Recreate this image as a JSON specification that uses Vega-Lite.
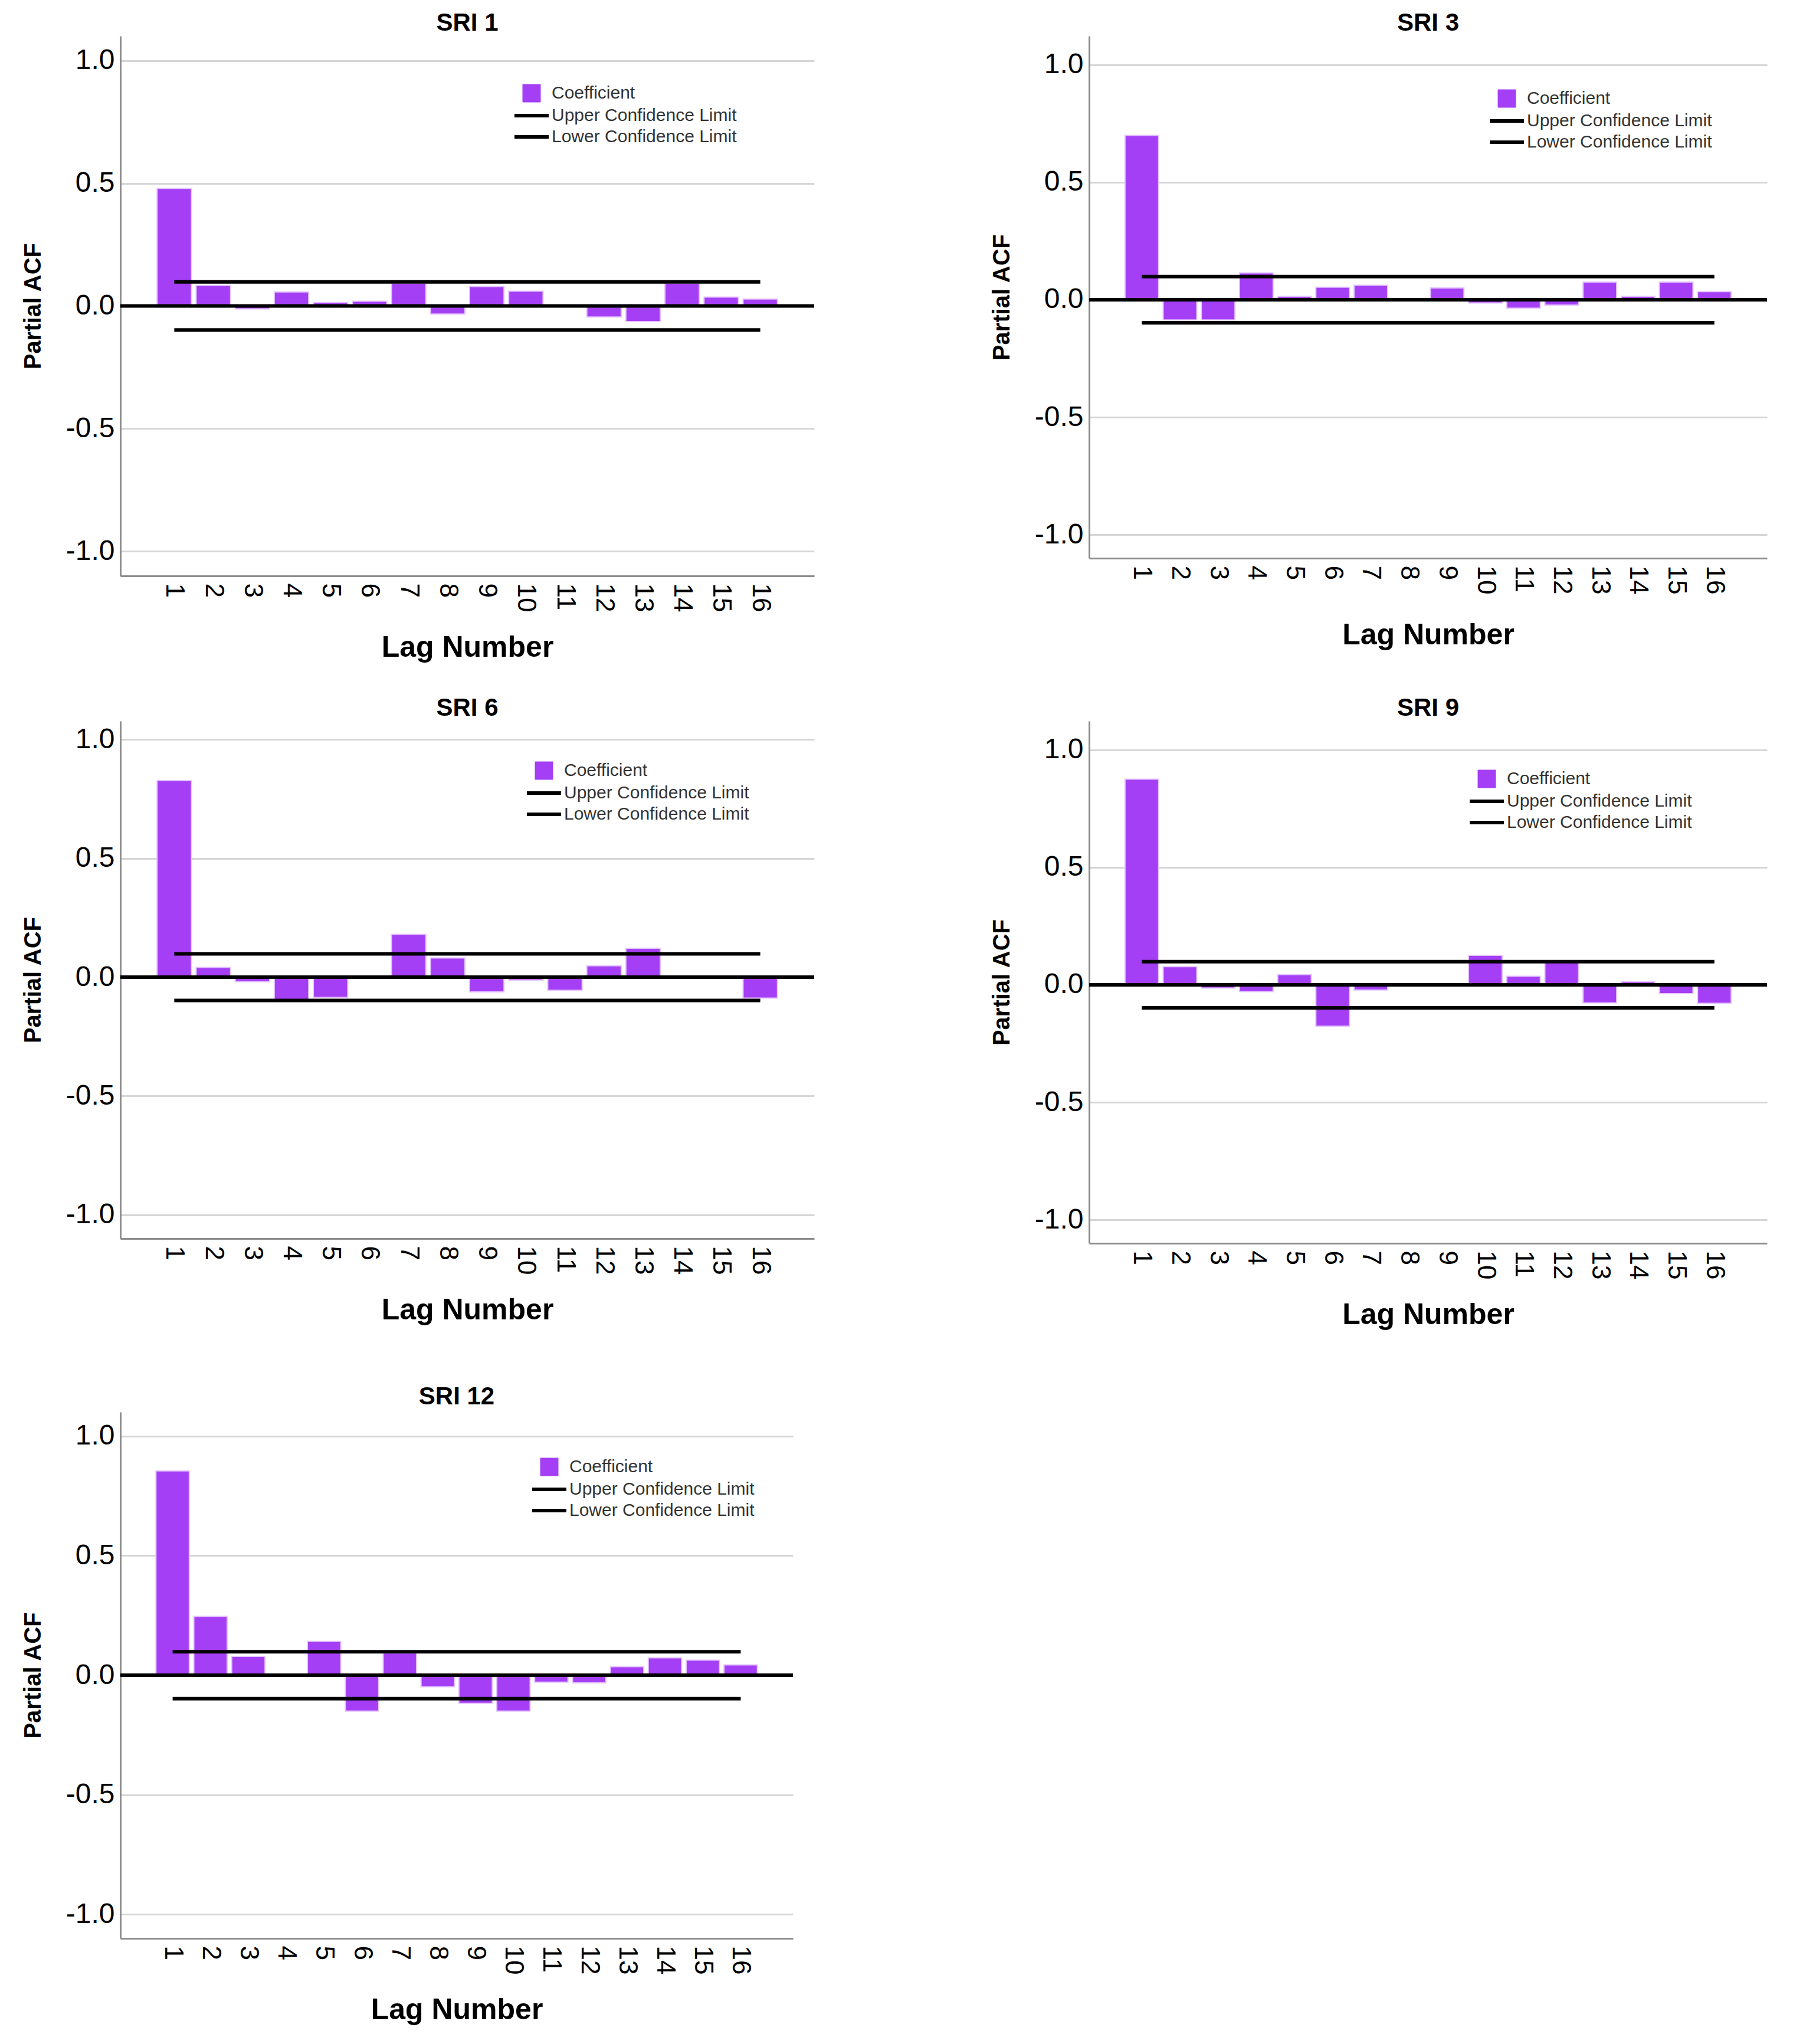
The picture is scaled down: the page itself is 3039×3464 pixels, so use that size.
{
  "$schema": "https://vega.github.io/schema/vega-lite/v6.json",
  "background": "white",
  "padding": {"left": 36, "top": 18, "right": 10, "bottom": 10},
  "datasets": {
    "pacf": [
      {"series": "SRI 1", "lag": 1, "pacf": 0.479}, {"series": "SRI 1", "lag": 2, "pacf": 0.083},
      {"series": "SRI 1", "lag": 3, "pacf": -0.012}, {"series": "SRI 1", "lag": 4, "pacf": 0.057},
      {"series": "SRI 1", "lag": 5, "pacf": 0.014}, {"series": "SRI 1", "lag": 6, "pacf": 0.019},
      {"series": "SRI 1", "lag": 7, "pacf": 0.093}, {"series": "SRI 1", "lag": 8, "pacf": -0.033},
      {"series": "SRI 1", "lag": 9, "pacf": 0.079}, {"series": "SRI 1", "lag": 10, "pacf": 0.06},
      {"series": "SRI 1", "lag": 11, "pacf": 0.002}, {"series": "SRI 1", "lag": 12, "pacf": -0.045},
      {"series": "SRI 1", "lag": 13, "pacf": -0.064}, {"series": "SRI 1", "lag": 14, "pacf": 0.093},
      {"series": "SRI 1", "lag": 15, "pacf": 0.036}, {"series": "SRI 1", "lag": 16, "pacf": 0.028},
      {"series": "SRI 3", "lag": 1, "pacf": 0.699}, {"series": "SRI 3", "lag": 2, "pacf": -0.086},
      {"series": "SRI 3", "lag": 3, "pacf": -0.086}, {"series": "SRI 3", "lag": 4, "pacf": 0.114},
      {"series": "SRI 3", "lag": 5, "pacf": 0.014}, {"series": "SRI 3", "lag": 6, "pacf": 0.053},
      {"series": "SRI 3", "lag": 7, "pacf": 0.061}, {"series": "SRI 3", "lag": 8, "pacf": 0.005},
      {"series": "SRI 3", "lag": 9, "pacf": 0.05}, {"series": "SRI 3", "lag": 10, "pacf": -0.014},
      {"series": "SRI 3", "lag": 11, "pacf": -0.036}, {"series": "SRI 3", "lag": 12, "pacf": -0.023},
      {"series": "SRI 3", "lag": 13, "pacf": 0.075}, {"series": "SRI 3", "lag": 14, "pacf": 0.014},
      {"series": "SRI 3", "lag": 15, "pacf": 0.075}, {"series": "SRI 3", "lag": 16, "pacf": 0.034},
      {"series": "SRI 6", "lag": 1, "pacf": 0.827}, {"series": "SRI 6", "lag": 2, "pacf": 0.041},
      {"series": "SRI 6", "lag": 3, "pacf": -0.019}, {"series": "SRI 6", "lag": 4, "pacf": -0.102},
      {"series": "SRI 6", "lag": 5, "pacf": -0.085}, {"series": "SRI 6", "lag": 6, "pacf": 0.002},
      {"series": "SRI 6", "lag": 7, "pacf": 0.18}, {"series": "SRI 6", "lag": 8, "pacf": 0.081},
      {"series": "SRI 6", "lag": 9, "pacf": -0.062}, {"series": "SRI 6", "lag": 10, "pacf": -0.012},
      {"series": "SRI 6", "lag": 11, "pacf": -0.055}, {"series": "SRI 6", "lag": 12, "pacf": 0.048},
      {"series": "SRI 6", "lag": 13, "pacf": 0.122}, {"series": "SRI 6", "lag": 14, "pacf": -0.003},
      {"series": "SRI 6", "lag": 15, "pacf": 0.002}, {"series": "SRI 6", "lag": 16, "pacf": -0.088},
      {"series": "SRI 9", "lag": 1, "pacf": 0.875}, {"series": "SRI 9", "lag": 2, "pacf": 0.077},
      {"series": "SRI 9", "lag": 3, "pacf": -0.014}, {"series": "SRI 9", "lag": 4, "pacf": -0.029},
      {"series": "SRI 9", "lag": 5, "pacf": 0.043}, {"series": "SRI 9", "lag": 6, "pacf": -0.176},
      {"series": "SRI 9", "lag": 7, "pacf": -0.022}, {"series": "SRI 9", "lag": 8, "pacf": 0.001},
      {"series": "SRI 9", "lag": 9, "pacf": 0.001}, {"series": "SRI 9", "lag": 10, "pacf": 0.125},
      {"series": "SRI 9", "lag": 11, "pacf": 0.036}, {"series": "SRI 9", "lag": 12, "pacf": 0.1},
      {"series": "SRI 9", "lag": 13, "pacf": -0.077}, {"series": "SRI 9", "lag": 14, "pacf": 0.013},
      {"series": "SRI 9", "lag": 15, "pacf": -0.038}, {"series": "SRI 9", "lag": 16, "pacf": -0.079},
      {"series": "SRI 12", "lag": 1, "pacf": 0.854}, {"series": "SRI 12", "lag": 2, "pacf": 0.246},
      {"series": "SRI 12", "lag": 3, "pacf": 0.079}, {"series": "SRI 12", "lag": 4, "pacf": 0.001},
      {"series": "SRI 12", "lag": 5, "pacf": 0.141}, {"series": "SRI 12", "lag": 6, "pacf": -0.15},
      {"series": "SRI 12", "lag": 7, "pacf": 0.093}, {"series": "SRI 12", "lag": 8, "pacf": -0.048},
      {"series": "SRI 12", "lag": 9, "pacf": -0.118}, {"series": "SRI 12", "lag": 10, "pacf": -0.15},
      {"series": "SRI 12", "lag": 11, "pacf": -0.029}, {"series": "SRI 12", "lag": 12, "pacf": -0.032},
      {"series": "SRI 12", "lag": 13, "pacf": 0.036}, {"series": "SRI 12", "lag": 14, "pacf": 0.073},
      {"series": "SRI 12", "lag": 15, "pacf": 0.063}, {"series": "SRI 12", "lag": 16, "pacf": 0.043}
    ],
    "limits": [
      {"series": "SRI 1", "limit": "Upper Confidence Limit", "value": 0.098},
      {"series": "SRI 1", "limit": "Lower Confidence Limit", "value": -0.098},
      {"series": "SRI 3", "limit": "Upper Confidence Limit", "value": 0.098},
      {"series": "SRI 3", "limit": "Lower Confidence Limit", "value": -0.098},
      {"series": "SRI 6", "limit": "Upper Confidence Limit", "value": 0.098},
      {"series": "SRI 6", "limit": "Lower Confidence Limit", "value": -0.098},
      {"series": "SRI 9", "limit": "Upper Confidence Limit", "value": 0.098},
      {"series": "SRI 9", "limit": "Lower Confidence Limit", "value": -0.098},
      {"series": "SRI 12", "limit": "Upper Confidence Limit", "value": 0.098},
      {"series": "SRI 12", "limit": "Lower Confidence Limit", "value": -0.098}
    ],
    "zero": [{"value": 0}]
  },
  "spacing": 92,
  "resolve": {"scale": {"color": "independent"}, "legend": {"color": "independent"}},
  "vconcat": [
    {
      "spacing": 56,
      "resolve": {"scale": {"color": "independent"}, "legend": {"color": "independent"}},
      "vconcat": [
        {
          "spacing": 295,
          "resolve": {"scale": {"color": "independent"}, "legend": {"color": "independent"}},
          "hconcat": [
            {
              "title": {"text": "SRI 1", "offset": 0},
              "width": 1176, "height": 915,
              "layer": [
                {
                  "data": {"name": "pacf"},
                  "transform": [{"filter": "datum.series === 'SRI 1'"}],
                  "mark": {"type": "bar", "stroke": "#e4c4ff", "strokeWidth": 2},
                  "encoding": {
                    "x": {"field": "lag", "type": "ordinal", "title": "Lag Number"},
                    "y": {"field": "pacf", "type": "quantitative", "title": "Partial ACF", "scale": {"domain": [-1.1, 1.1], "nice": false}, "axis": {"values": [-1, -0.5, 0, 0.5, 1], "labelExpr": "replace(format(datum.value, '.1f'), '\u2212', '-')"}},
                    "color": {"datum": "Coefficient", "type": "nominal",
                      "scale": {"domain": ["Coefficient", "Upper Confidence Limit", "Lower Confidence Limit"], "range": ["#a53ff5", "#000000", "#000000"]},
                      "legend": {"title": null, "orient": "none", "legendX": 682, "legendY": 82, "padding": 0, "symbolSize": 3364, "symbolStrokeWidth": 6, "labelFontSize": 30, "labelLimit": 0, "labelColor": "#333333", "labelOffset": 19, "rowPadding": 6,
                        "encode": {"symbols": {"update": {
                          "shape": {"signal": "datum.value === 'Coefficient' ? 'square' : 'stroke'"},
                          "size": {"signal": "datum.value === 'Coefficient' ? 900 : 3364"},
                          "fill": {"signal": "datum.value === 'Coefficient' ? '#a53ff5' : 'transparent'"},
                          "stroke": {"signal": "datum.value === 'Coefficient' ? '#e4c4ff' : '#000000'"},
                          "strokeWidth": {"signal": "datum.value === 'Coefficient' ? 1 : 6"},
                          "opacity": {"value": 1}}}}}}
                  }
                },
                {
                  "data": {"name": "limits"},
                  "transform": [{"filter": "datum.series === 'SRI 1'"}],
                  "mark": {"type": "rule", "strokeWidth": 6},
                  "encoding": {
                    "x": {"datum": 1, "type": "ordinal"},
                    "x2": {"datum": 16},
                    "y": {"field": "value", "type": "quantitative"},
                    "color": {"field": "limit", "type": "nominal",
                      "legend": {"title": null, "orient": "none", "legendX": 682, "legendY": 82, "padding": 0, "symbolSize": 3364, "symbolStrokeWidth": 6, "labelFontSize": 30, "labelLimit": 0, "labelColor": "#333333", "labelOffset": 19, "rowPadding": 6,
                        "encode": {"symbols": {"update": {
                          "shape": {"signal": "datum.value === 'Coefficient' ? 'square' : 'stroke'"},
                          "size": {"signal": "datum.value === 'Coefficient' ? 900 : 3364"},
                          "fill": {"signal": "datum.value === 'Coefficient' ? '#a53ff5' : 'transparent'"},
                          "stroke": {"signal": "datum.value === 'Coefficient' ? '#e4c4ff' : '#000000'"},
                          "strokeWidth": {"signal": "datum.value === 'Coefficient' ? 1 : 6"},
                          "opacity": {"value": 1}}}}}}
                  }
                },
                {
                  "data": {"name": "zero"},
                  "mark": {"type": "rule", "strokeWidth": 6, "color": "#000000"},
                  "encoding": {"y": {"field": "value", "type": "quantitative"}}
                }
              ]
            },
            {
              "title": {"text": "SRI 3", "offset": 0},
              "width": 1149, "height": 885,
              "layer": [
                {
                  "data": {"name": "pacf"},
                  "transform": [{"filter": "datum.series === 'SRI 3'"}],
                  "mark": {"type": "bar", "stroke": "#e4c4ff", "strokeWidth": 2},
                  "encoding": {
                    "x": {"field": "lag", "type": "ordinal", "title": "Lag Number", "axis": {"titlePadding": 45}},
                    "y": {"field": "pacf", "type": "quantitative", "title": "Partial ACF", "scale": {"domain": [-1.1, 1.122], "nice": false}, "axis": {"values": [-1, -0.5, 0, 0.5, 1], "labelExpr": "replace(format(datum.value, '.1f'), '\u2212', '-')"}},
                    "color": {"datum": "Coefficient", "type": "nominal",
                      "scale": {"domain": ["Coefficient", "Upper Confidence Limit", "Lower Confidence Limit"], "range": ["#a53ff5", "#000000", "#000000"]},
                      "legend": {"title": null, "orient": "none", "legendX": 693, "legendY": 91, "padding": 0, "symbolSize": 3364, "symbolStrokeWidth": 6, "labelFontSize": 30, "labelLimit": 0, "labelColor": "#333333", "labelOffset": 19, "rowPadding": 6,
                        "encode": {"symbols": {"update": {
                          "shape": {"signal": "datum.value === 'Coefficient' ? 'square' : 'stroke'"},
                          "size": {"signal": "datum.value === 'Coefficient' ? 900 : 3364"},
                          "fill": {"signal": "datum.value === 'Coefficient' ? '#a53ff5' : 'transparent'"},
                          "stroke": {"signal": "datum.value === 'Coefficient' ? '#e4c4ff' : '#000000'"},
                          "strokeWidth": {"signal": "datum.value === 'Coefficient' ? 1 : 6"},
                          "opacity": {"value": 1}}}}}}
                  }
                },
                {
                  "data": {"name": "limits"},
                  "transform": [{"filter": "datum.series === 'SRI 3'"}],
                  "mark": {"type": "rule", "strokeWidth": 6},
                  "encoding": {
                    "x": {"datum": 1, "type": "ordinal"},
                    "x2": {"datum": 16},
                    "y": {"field": "value", "type": "quantitative"},
                    "color": {"field": "limit", "type": "nominal",
                      "legend": {"title": null, "orient": "none", "legendX": 693, "legendY": 91, "padding": 0, "symbolSize": 3364, "symbolStrokeWidth": 6, "labelFontSize": 30, "labelLimit": 0, "labelColor": "#333333", "labelOffset": 19, "rowPadding": 6,
                        "encode": {"symbols": {"update": {
                          "shape": {"signal": "datum.value === 'Coefficient' ? 'square' : 'stroke'"},
                          "size": {"signal": "datum.value === 'Coefficient' ? 900 : 3364"},
                          "fill": {"signal": "datum.value === 'Coefficient' ? '#a53ff5' : 'transparent'"},
                          "stroke": {"signal": "datum.value === 'Coefficient' ? '#e4c4ff' : '#000000'"},
                          "strokeWidth": {"signal": "datum.value === 'Coefficient' ? 1 : 6"},
                          "opacity": {"value": 1}}}}}}
                  }
                },
                {
                  "data": {"name": "zero"},
                  "mark": {"type": "rule", "strokeWidth": 6, "color": "#000000"},
                  "encoding": {"y": {"field": "value", "type": "quantitative"}}
                }
              ]
            }
          ]
        },
        {
          "spacing": 295,
          "resolve": {"scale": {"color": "independent"}, "legend": {"color": "independent"}},
          "hconcat": [
            {
              "title": {"text": "SRI 6", "offset": 0},
              "width": 1176, "height": 877,
              "layer": [
                {
                  "data": {"name": "pacf"},
                  "transform": [{"filter": "datum.series === 'SRI 6'"}],
                  "mark": {"type": "bar", "stroke": "#e4c4ff", "strokeWidth": 2},
                  "encoding": {
                    "x": {"field": "lag", "type": "ordinal", "title": "Lag Number"},
                    "y": {"field": "pacf", "type": "quantitative", "title": "Partial ACF", "scale": {"domain": [-1.1, 1.078], "nice": false}, "axis": {"values": [-1, -0.5, 0, 0.5, 1], "labelExpr": "replace(format(datum.value, '.1f'), '\u2212', '-')"}},
                    "color": {"datum": "Coefficient", "type": "nominal",
                      "scale": {"domain": ["Coefficient", "Upper Confidence Limit", "Lower Confidence Limit"], "range": ["#a53ff5", "#000000", "#000000"]},
                      "legend": {"title": null, "orient": "none", "legendX": 703, "legendY": 69, "padding": 0, "symbolSize": 3364, "symbolStrokeWidth": 6, "labelFontSize": 30, "labelLimit": 0, "labelColor": "#333333", "labelOffset": 19, "rowPadding": 6,
                        "encode": {"symbols": {"update": {
                          "shape": {"signal": "datum.value === 'Coefficient' ? 'square' : 'stroke'"},
                          "size": {"signal": "datum.value === 'Coefficient' ? 900 : 3364"},
                          "fill": {"signal": "datum.value === 'Coefficient' ? '#a53ff5' : 'transparent'"},
                          "stroke": {"signal": "datum.value === 'Coefficient' ? '#e4c4ff' : '#000000'"},
                          "strokeWidth": {"signal": "datum.value === 'Coefficient' ? 1 : 6"},
                          "opacity": {"value": 1}}}}}}
                  }
                },
                {
                  "data": {"name": "limits"},
                  "transform": [{"filter": "datum.series === 'SRI 6'"}],
                  "mark": {"type": "rule", "strokeWidth": 6},
                  "encoding": {
                    "x": {"datum": 1, "type": "ordinal"},
                    "x2": {"datum": 16},
                    "y": {"field": "value", "type": "quantitative"},
                    "color": {"field": "limit", "type": "nominal",
                      "legend": {"title": null, "orient": "none", "legendX": 703, "legendY": 69, "padding": 0, "symbolSize": 3364, "symbolStrokeWidth": 6, "labelFontSize": 30, "labelLimit": 0, "labelColor": "#333333", "labelOffset": 19, "rowPadding": 6,
                        "encode": {"symbols": {"update": {
                          "shape": {"signal": "datum.value === 'Coefficient' ? 'square' : 'stroke'"},
                          "size": {"signal": "datum.value === 'Coefficient' ? 900 : 3364"},
                          "fill": {"signal": "datum.value === 'Coefficient' ? '#a53ff5' : 'transparent'"},
                          "stroke": {"signal": "datum.value === 'Coefficient' ? '#e4c4ff' : '#000000'"},
                          "strokeWidth": {"signal": "datum.value === 'Coefficient' ? 1 : 6"},
                          "opacity": {"value": 1}}}}}}
                  }
                },
                {
                  "data": {"name": "zero"},
                  "mark": {"type": "rule", "strokeWidth": 6, "color": "#000000"},
                  "encoding": {"y": {"field": "value", "type": "quantitative"}}
                }
              ]
            },
            {
              "title": {"text": "SRI 9", "offset": 0},
              "width": 1149, "height": 885,
              "layer": [
                {
                  "data": {"name": "pacf"},
                  "transform": [{"filter": "datum.series === 'SRI 9'"}],
                  "mark": {"type": "bar", "stroke": "#e4c4ff", "strokeWidth": 2},
                  "encoding": {
                    "x": {"field": "lag", "type": "ordinal", "title": "Lag Number"},
                    "y": {"field": "pacf", "type": "quantitative", "title": "Partial ACF", "scale": {"domain": [-1.1, 1.122], "nice": false}, "axis": {"values": [-1, -0.5, 0, 0.5, 1], "labelExpr": "replace(format(datum.value, '.1f'), '\u2212', '-')"}},
                    "color": {"datum": "Coefficient", "type": "nominal",
                      "scale": {"domain": ["Coefficient", "Upper Confidence Limit", "Lower Confidence Limit"], "range": ["#a53ff5", "#000000", "#000000"]},
                      "legend": {"title": null, "orient": "none", "legendX": 659, "legendY": 83, "padding": 0, "symbolSize": 3364, "symbolStrokeWidth": 6, "labelFontSize": 30, "labelLimit": 0, "labelColor": "#333333", "labelOffset": 19, "rowPadding": 6,
                        "encode": {"symbols": {"update": {
                          "shape": {"signal": "datum.value === 'Coefficient' ? 'square' : 'stroke'"},
                          "size": {"signal": "datum.value === 'Coefficient' ? 900 : 3364"},
                          "fill": {"signal": "datum.value === 'Coefficient' ? '#a53ff5' : 'transparent'"},
                          "stroke": {"signal": "datum.value === 'Coefficient' ? '#e4c4ff' : '#000000'"},
                          "strokeWidth": {"signal": "datum.value === 'Coefficient' ? 1 : 6"},
                          "opacity": {"value": 1}}}}}}
                  }
                },
                {
                  "data": {"name": "limits"},
                  "transform": [{"filter": "datum.series === 'SRI 9'"}],
                  "mark": {"type": "rule", "strokeWidth": 6},
                  "encoding": {
                    "x": {"datum": 1, "type": "ordinal"},
                    "x2": {"datum": 16},
                    "y": {"field": "value", "type": "quantitative"},
                    "color": {"field": "limit", "type": "nominal",
                      "legend": {"title": null, "orient": "none", "legendX": 659, "legendY": 83, "padding": 0, "symbolSize": 3364, "symbolStrokeWidth": 6, "labelFontSize": 30, "labelLimit": 0, "labelColor": "#333333", "labelOffset": 19, "rowPadding": 6,
                        "encode": {"symbols": {"update": {
                          "shape": {"signal": "datum.value === 'Coefficient' ? 'square' : 'stroke'"},
                          "size": {"signal": "datum.value === 'Coefficient' ? 900 : 3364"},
                          "fill": {"signal": "datum.value === 'Coefficient' ? '#a53ff5' : 'transparent'"},
                          "stroke": {"signal": "datum.value === 'Coefficient' ? '#e4c4ff' : '#000000'"},
                          "strokeWidth": {"signal": "datum.value === 'Coefficient' ? 1 : 6"},
                          "opacity": {"value": 1}}}}}}
                  }
                },
                {
                  "data": {"name": "zero"},
                  "mark": {"type": "rule", "strokeWidth": 6, "color": "#000000"},
                  "encoding": {"y": {"field": "value", "type": "quantitative"}}
                }
              ]
            }
          ]
        }
      ]
    },
    {
      "title": {"text": "SRI 12", "offset": 4},
      "width": 1140, "height": 892,
      "layer": [
        {
          "data": {"name": "pacf"},
          "transform": [{"filter": "datum.series === 'SRI 12'"}],
          "mark": {"type": "bar", "stroke": "#e4c4ff", "strokeWidth": 2},
          "encoding": {
            "x": {"field": "lag", "type": "ordinal", "title": "Lag Number"},
            "y": {"field": "pacf", "type": "quantitative", "title": "Partial ACF", "scale": {"domain": [-1.1, 1.1], "nice": false}, "axis": {"values": [-1, -0.5, 0, 0.5, 1], "labelExpr": "replace(format(datum.value, '.1f'), '\u2212', '-')"}},
            "color": {"datum": "Coefficient", "type": "nominal",
              "scale": {"domain": ["Coefficient", "Upper Confidence Limit", "Lower Confidence Limit"], "range": ["#a53ff5", "#000000", "#000000"]},
              "legend": {"title": null, "orient": "none", "legendX": 712, "legendY": 78, "padding": 0, "symbolSize": 3364, "symbolStrokeWidth": 6, "labelFontSize": 30, "labelLimit": 0, "labelColor": "#333333", "labelOffset": 19, "rowPadding": 6,
                "encode": {"symbols": {"update": {
                  "shape": {"signal": "datum.value === 'Coefficient' ? 'square' : 'stroke'"},
                  "size": {"signal": "datum.value === 'Coefficient' ? 900 : 3364"},
                  "fill": {"signal": "datum.value === 'Coefficient' ? '#a53ff5' : 'transparent'"},
                  "stroke": {"signal": "datum.value === 'Coefficient' ? '#e4c4ff' : '#000000'"},
                  "strokeWidth": {"signal": "datum.value === 'Coefficient' ? 1 : 6"},
                  "opacity": {"value": 1}}}}}}
          }
        },
        {
          "data": {"name": "limits"},
          "transform": [{"filter": "datum.series === 'SRI 12'"}],
          "mark": {"type": "rule", "strokeWidth": 6},
          "encoding": {
            "x": {"datum": 1, "type": "ordinal"},
            "x2": {"datum": 16},
            "y": {"field": "value", "type": "quantitative"},
            "color": {"field": "limit", "type": "nominal",
              "legend": {"title": null, "orient": "none", "legendX": 712, "legendY": 78, "padding": 0, "symbolSize": 3364, "symbolStrokeWidth": 6, "labelFontSize": 30, "labelLimit": 0, "labelColor": "#333333", "labelOffset": 19, "rowPadding": 6,
                "encode": {"symbols": {"update": {
                  "shape": {"signal": "datum.value === 'Coefficient' ? 'square' : 'stroke'"},
                  "size": {"signal": "datum.value === 'Coefficient' ? 900 : 3364"},
                  "fill": {"signal": "datum.value === 'Coefficient' ? '#a53ff5' : 'transparent'"},
                  "stroke": {"signal": "datum.value === 'Coefficient' ? '#e4c4ff' : '#000000'"},
                  "strokeWidth": {"signal": "datum.value === 'Coefficient' ? 1 : 6"},
                  "opacity": {"value": 1}}}}}}
          }
        },
        {
          "data": {"name": "zero"},
          "mark": {"type": "rule", "strokeWidth": 6, "color": "#000000"},
          "encoding": {"y": {"field": "value", "type": "quantitative"}}
        }
      ]
    }
  ],
  "config": {
    "font": "Liberation Sans",
    "view": {"stroke": null},
    "scale": {"bandPaddingInner": 0.12, "bandPaddingOuter": 0.94},
    "title": {"fontSize": 42, "fontWeight": "bold", "color": "#000000", "anchor": "middle"},
    "axis": {"domainColor": "#8c8c8c", "domainWidth": 3, "ticks": false, "labelColor": "#000000", "titleColor": "#000000", "titleFontWeight": "bold"},
    "axisX": {"labelAngle": 90, "labelFontSize": 44, "labelPadding": 12, "titleFontSize": 50, "titlePadding": 36, "grid": false},
    "axisY": {"labelFontSize": 48, "labelPadding": 10, "titleFontSize": 40, "titlePadding": 35, "grid": true, "gridColor": "#d6d6d6", "gridWidth": 3}
  }
}
